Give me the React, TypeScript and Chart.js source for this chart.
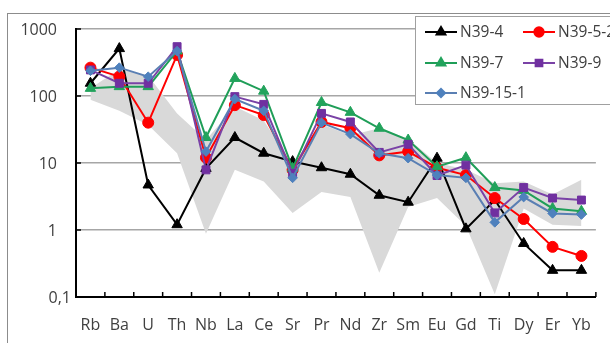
import React, { useEffect, useRef } from 'react';
import { Chart, registerables } from 'chart.js';
import { drawPoint } from 'chart.js/helpers';

Chart.register(...registerables);

const categories = ['Rb', 'Ba', 'U', 'Th', 'Nb', 'La', 'Ce', 'Sr', 'Pr', 'Nd', 'Zr', 'Sm', 'Eu', 'Gd', 'Ti', 'Dy', 'Er', 'Yb'];

const n39_4 = [155, 510, 4.7, 1.2, 8.3, 24, 14, 10.5, 8.5, 6.8, 3.3, 2.6, 11.8, 1.04, 2.8, 0.63, 0.25, 0.25];
const n39_5_2 = [265, 195, 40, 410, 12, 73, 52, 7.9, 41, 33, 13, 14.8, 8.5, 6.6, 3.0, 1.46, 0.56, 0.41];
const n39_7 = [130, 138, 138, 470, 24, 183, 118, 8.3, 80, 57, 33, 22, 8.8, 12, 4.3, 3.9, 2.1, 1.9];
const n39_9 = [245, 155, 155, 545, 7.9, 98, 75, 7.0, 55, 41, 14.4, 19, 6.5, 9.3, 1.8, 4.3, 3.0, 2.8];
const n39_15_1 = [238, 265, 194, 468, 14.8, 90, 60, 6.0, 40, 27, 14, 11.8, 6.6, 6.0, 1.3, 3.1, 1.77, 1.7];

const bandUpper = [130, 250, 200, 55, 22, 70, 43, 9.5, 38, 26, 33, 23, 10, 8, 5, 5.3, 3.4, 5.6];
const bandLower = [88, 60, 37, 14, 0.88, 7.9, 5.3, 1.8, 3.7, 3.1, 0.23, 2.2, 3.0, 1.15, 0.11, 2.1, 1.2, 1.15];

const yTickValues = [0.1, 1, 10, 100, 1000];
const yTickLabels = ['0,1', '1', '10', '100', '1000'];

const FONT = '"Open Sans", sans-serif';

const seriesDefs = [
  { label: 'N39-4', data: n39_4, line: '#000000', fill: '#000000', style: 'triangle', radius: 6, order: 5 },
  { label: 'N39-5-2', data: n39_5_2, line: '#ff0000', fill: '#ff0000', style: 'circle', radius: 5.5, order: 4 },
  { label: 'N39-7', data: n39_7, line: '#1f9e58', fill: '#22a35c', style: 'triangle', radius: 6, order: 3 },
  { label: 'N39-9', data: n39_9, line: '#7a42a6', fill: '#7030a0', style: 'rect', radius: 5.6, order: 2 },
  { label: 'N39-15-1', data: n39_15_1, line: '#5a7fb3', fill: '#4f81bd', style: 'rectRot', radius: 4.8, order: 1 },
];

const decorPlugin = {
  id: 'decor',
  beforeDraw(chart: any) {
    const ctx = chart.ctx;
    ctx.save();
    ctx.fillStyle = '#ffffff';
    ctx.fillRect(0, 0, chart.width, chart.height);
    ctx.strokeStyle = '#8c8c8c';
    ctx.lineWidth = 1;
    ctx.strokeRect(7.5, 13.5, chart.width + 40, chart.height + 40);
    ctx.restore();
  },
  afterDraw(chart: any) {
    const ctx = chart.ctx;
    const { left, bottom } = chart.chartArea;
    const xs = chart.scales.x;
    const ys = chart.scales.y;
    ctx.save();
    // inward tick marks
    ctx.strokeStyle = '#000000';
    ctx.lineWidth = 1.5;
    const step = xs.getPixelForValue(1) - xs.getPixelForValue(0);
    for (let i = 0; i < categories.length; i++) {
      const x = xs.getPixelForValue(i) + step / 2;
      ctx.beginPath();
      ctx.moveTo(x, bottom);
      ctx.lineTo(x, bottom - 5);
      ctx.stroke();
    }
    for (let i = 1; i < yTickValues.length; i++) {
      const y = ys.getPixelForValue(yTickValues[i]);
      ctx.beginPath();
      ctx.moveTo(left, y);
      ctx.lineTo(left + 5, y);
      ctx.stroke();
    }
    // y labels
    ctx.font = `16px ${FONT}`;
    ctx.fillStyle = '#404040';
    ctx.textAlign = 'right';
    ctx.textBaseline = 'middle';
    yTickValues.forEach((v, i) => {
      const y = ys.getPixelForValue(v);
      const x = i === 0 ? left - 5 : left - 19;
      ctx.fillText(yTickLabels[i], x, y + 1);
    });
    // legend box
    const bx = 415.5, by = 16.5;
    ctx.fillStyle = '#ffffff';
    ctx.fillRect(bx, by, 300, 88);
    ctx.strokeStyle = '#a0a0a0';
    ctx.lineWidth = 1;
    ctx.strokeRect(bx, by, 300, 88);
    const cols = [425, 523];
    const rows = [32, 63, 93];
    ctx.font = `15.5px ${FONT}`;
    ctx.textAlign = 'left';
    seriesDefs.forEach((s, i) => {
      const cx = cols[i % 2];
      const cy = rows[Math.floor(i / 2)];
      ctx.strokeStyle = s.line;
      ctx.lineWidth = 2;
      ctx.beginPath();
      ctx.moveTo(cx, cy);
      ctx.lineTo(cx + 32, cy);
      ctx.stroke();
      ctx.fillStyle = s.fill;
      ctx.strokeStyle = s.fill;
      drawPoint(ctx, { pointStyle: s.style, radius: s.radius * 0.85, rotation: 0, borderWidth: 1 } as any, cx + 16, cy);
      ctx.fillStyle = '#404040';
      ctx.fillText(s.label, cx + 35, cy + 1);
    });
    ctx.restore();
  },
};

export default function App() {
  const ref = useRef<HTMLCanvasElement>(null);
  useEffect(() => {
    if (!ref.current) return;
    const datasets: any[] = seriesDefs.map((s) => ({
      label: s.label,
      data: s.data,
      borderColor: s.line,
      backgroundColor: s.fill,
      pointBackgroundColor: s.fill,
      pointBorderColor: s.fill,
      pointStyle: s.style,
      pointRadius: s.radius,
      pointBorderWidth: 1,
      borderWidth: 2,
      tension: 0,
      fill: false,
      order: s.order,
    }));
    datasets.push({
      label: 'band-low',
      data: bandLower,
      borderWidth: 0,
      pointRadius: 0,
      fill: false,
      order: 10,
    });
    datasets.push({
      label: 'band-high',
      data: bandUpper,
      borderWidth: 0,
      borderColor: 'rgba(0,0,0,0)',
      backgroundColor: '#d9d9d9',
      pointRadius: 0,
      fill: '-1',
      order: 11,
    });
    const chart = new Chart(ref.current, {
      type: 'line',
      data: { labels: categories, datasets },
      plugins: [decorPlugin],
      options: {
        responsive: false,
        animation: false,
        layout: { padding: { top: 29, right: 3, left: 0, bottom: 0 } },
        plugins: {
          legend: { display: false },
          tooltip: { enabled: false },
          filler: { drawTime: 'beforeDatasetsDraw' },
        },
        scales: {
          x: {
            type: 'category',
            offset: true,
            grid: { display: false, drawTicks: false },
            border: { display: true, color: '#000000', width: 2 },
            ticks: { font: { family: FONT, size: 16 }, color: '#404040', padding: 19, maxRotation: 0, autoSkip: false },
            afterFit: (s: any) => { s.height = 46; },
          },
          y: {
            type: 'logarithmic',
            min: 0.1,
            max: 1000,
            grid: { color: '#a6a6a6', lineWidth: 1.5, drawTicks: false },
            border: { display: true, color: '#000000', width: 2 },
            ticks: { display: false },
            afterBuildTicks: (s: any) => { s.ticks = yTickValues.map((v) => ({ value: v })); },
            afterFit: (s: any) => { s.width = 76; },
          },
        },
      } as any,
    });
    return () => chart.destroy();
  }, []);
  return (
    <div style={{ position: 'fixed', left: 0, top: 0, width: 610, height: 343, background: '#fff' }}>
      <canvas ref={ref} width={610} height={343} style={{ display: 'block' }} />
    </div>
  );
}
